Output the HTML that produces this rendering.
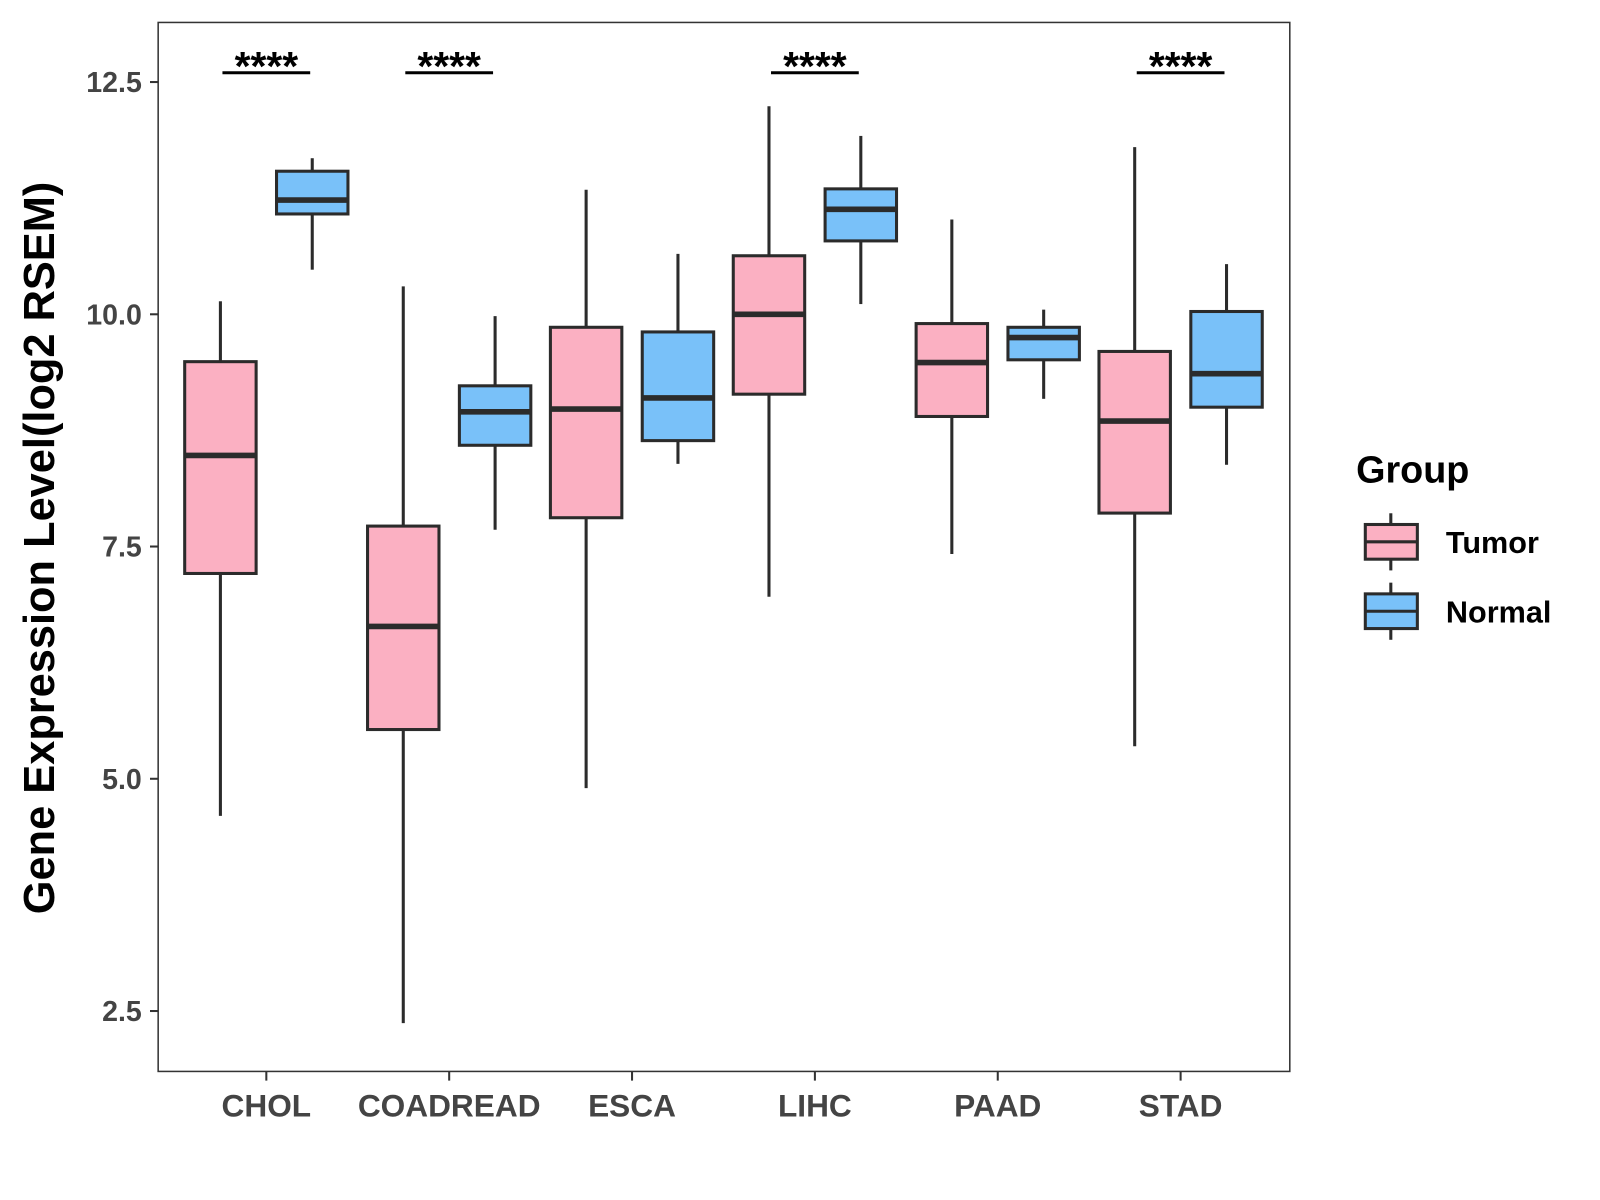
<!DOCTYPE html>
<html><head><meta charset="utf-8"><style>html,body{margin:0;padding:0;background:#fff}svg{display:block}</style></head>
<body>
<svg id="chart" width="1600" height="1200" viewBox="0 0 1568 1176" xmlns="http://www.w3.org/2000/svg" font-family="'Liberation Sans', Arial, sans-serif">
<g id="plot"></g>
<text transform="translate(53,537) rotate(-90)" text-anchor="middle" font-size="42.5" font-weight="bold" fill="#000">Gene Expression Level(log2 RSEM)</text>
<g>
<text x="1329" y="473" font-size="37" font-weight="bold">Group</text>
<g>
<line x1="1363" y1="503" x2="1363" y2="559" stroke="#2b2b2b" stroke-width="3"/>
<rect x="1338" y="514" width="51" height="34" fill="#FBB0C2" stroke="#2b2b2b" stroke-width="3"/>
<line x1="1338" y1="531" x2="1389" y2="531" stroke="#2b2b2b" stroke-width="3"/>
<text x="1417" y="542" font-size="30" font-weight="bold">Tumor</text></g>
<g>
<line x1="1363" y1="571" x2="1363" y2="627" stroke="#2b2b2b" stroke-width="3"/>
<rect x="1338" y="582" width="51" height="34" fill="#79C1F9" stroke="#2b2b2b" stroke-width="3"/>
<line x1="1338" y1="599" x2="1389" y2="599" stroke="#2b2b2b" stroke-width="3"/>
<text x="1417" y="610" font-size="30" font-weight="bold">Normal</text></g>
</g>
</svg>
<script>
const categories = ["CHOL","COADREAD","ESCA","LIHC","PAAD","STAD"];
// [low, q1, median, q3, high]
const tumorStats = [[4.6,7.21,8.48,9.49,10.14],[2.37,5.53,6.64,7.72,10.30],[4.90,7.81,8.98,9.86,11.34],[6.96,9.14,10.0,10.63,12.24],[7.42,8.90,9.48,9.90,11.02],[5.35,7.86,8.85,9.60,11.80]];
const normalStats = [[10.48,11.08,11.23,11.54,11.68],[7.68,8.59,8.95,9.23,9.98],[8.39,8.64,9.10,9.81,10.65],[10.11,10.79,11.13,11.35,11.92],[9.09,9.51,9.75,9.86,10.05],[8.38,9.00,9.36,10.03,10.54]];
const significance = ["****","****","","****","","****"];
const yTicks = [2.5,5.0,7.5,10.0,12.5];
const sigLevel = 12.6;

const NS="http://www.w3.org/2000/svg";
const g=document.getElementById('plot');
const L=155,T=22,R=1264,B=1050;
const y=v=>308-(v-10)*91.04;
const x=i=>261+i*179.2;
function mk(t,a,p){const e=document.createElementNS(NS,t);for(const k in a)e.setAttribute(k,a[k]);(p||g).appendChild(e);return e;}
const panel=mk('rect',{x:L,y:T,width:R-L,height:B-T,fill:'none',stroke:'#333','stroke-width':1.5});


yTicks.forEach(v=>{
  const tk=mk('line',{x1:L-8,x2:L,y1:y(v),y2:y(v),stroke:'#333','stroke-width':2});
  
  
  const tl=mk('text',{x:L-16,y:y(v)+10,'text-anchor':'end','font-size':28,'font-weight':'bold',fill:'#444'});
  tl.textContent=v.toFixed(1);
  
  
});
function box(cx,s,fill,name){
  const grp=mk('g',{});
  
  
  const w=35,st='#2b2b2b';
  mk('line',{x1:cx,x2:cx,y1:y(s[4]),y2:y(s[3]),stroke:st,'stroke-width':3},grp);
  mk('line',{x1:cx,x2:cx,y1:y(s[1]),y2:y(s[0]),stroke:st,'stroke-width':3},grp);
  mk('rect',{x:cx-w,y:y(s[3]),width:2*w,height:y(s[1])-y(s[3]),fill:fill,stroke:st,'stroke-width':3},grp);
  mk('line',{x1:cx-w,x2:cx+w,y1:y(s[2]),y2:y(s[2]),stroke:st,'stroke-width':5.5},grp);
}
categories.forEach((c,i)=>{
  const cx=x(i);
  box(cx-45,tumorStats[i],'#FBB0C2','box-tumor-'+c.toLowerCase());
  box(cx+45,normalStats[i],'#79C1F9','box-normal-'+c.toLowerCase());
  const tk=mk('line',{x1:cx,x2:cx,y1:B,y2:B+9,stroke:'#333','stroke-width':2});
  
  
  const tl=mk('text',{x:cx,y:B+44,'text-anchor':'middle','font-size':31,'font-weight':'bold',fill:'#444'});
  tl.textContent=c;
  
  
  if(significance[i]){
    const sl=mk('line',{x1:cx-43,x2:cx+43,y1:y(sigLevel),y2:y(sigLevel),stroke:'#000','stroke-width':3});
    
    
    const s=mk('text',{x:cx,y:y(sigLevel)+7,'text-anchor':'middle','font-size':40,'font-weight':'bold',fill:'#000'});
    s.textContent=significance[i];
    
    
  }
});
</script>
</body></html>
